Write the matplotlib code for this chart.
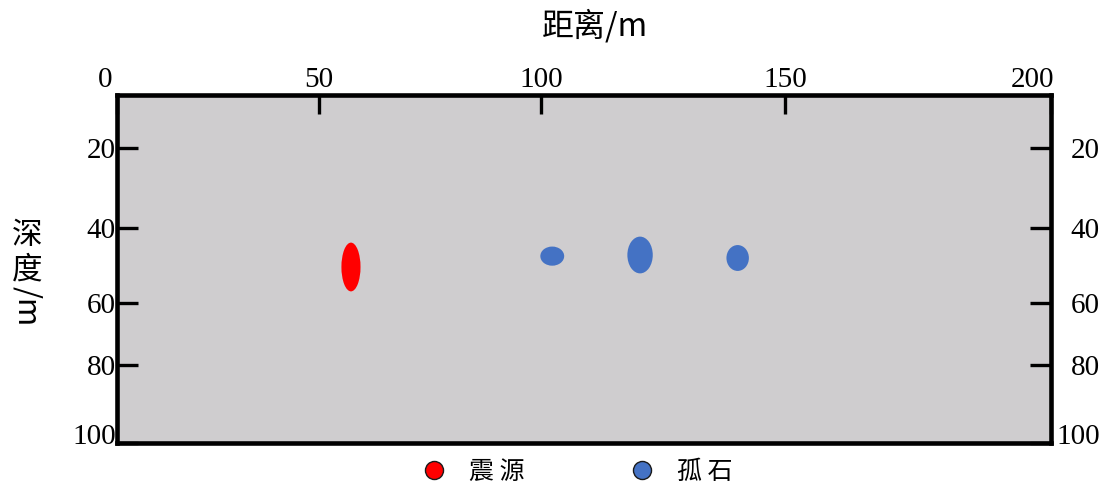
import numpy as np
import matplotlib
matplotlib.use('Agg')
import matplotlib.pyplot as plt
from matplotlib.patches import Ellipse
from matplotlib.lines import Line2D
from matplotlib.transforms import ScaledTranslation
from matplotlib.font_manager import FontProperties

# ---------------- data ----------------
x_ticks = [0, 50, 100, 150, 200]
y_ticks = [20, 40, 60, 80, 100]

source_x = [57.2]
source_y = [50.4]
source_w = [4.3]
source_h = [13.0]

boulder_x = [102.3, 120.3, 140.3]
boulder_y = [47.5, 47.2, 48.0]
boulder_w = [4.9, 5.2, 4.6]
boulder_h = [5.1, 9.8, 6.9]

legend_labels = ['震源', '孤石']
x_title = '距离/m'
y_title_cjk = ['深', '度']
y_title_unit = '/m'

# ------------- layout / style -------------
W, H, DPI = 1113, 484, 100
RED = '#ff0000'
BLUE = '#4472c4'
BG = '#cfcdcf'
CJK = ['Noto Sans CJK SC', 'DejaVu Sans']

plt.rcParams['font.family'] = ['Liberation Serif', 'DejaVu Serif']

# piecewise-linear axis scales as drawn in the reference figure
X_ANCHOR = [0, 50, 100, 150, 200]
X_PIX = [117, 319, 541, 785, 1050.5]
Y_ANCHOR = [0, 20, 40, 60, 80, 100]
Y_PIX = [94.5, 148, 228, 303, 365, 442.5]


def xf(v):
    return np.interp(v, X_ANCHOR, X_PIX)


def xi(v):
    return np.interp(v, X_PIX, X_ANCHOR)


def yf(v):
    return np.interp(v, Y_ANCHOR, Y_PIX)


def yi(v):
    return np.interp(v, Y_PIX, Y_ANCHOR)


fig = plt.figure(figsize=(W / DPI, H / DPI), dpi=DPI)
left = 117 / W
right = 1050.5 / W
top = 1 - 94.5 / H
bottom = 1 - 442.5 / H
ax = fig.add_axes([left, bottom, right - left, top - bottom])
ax.set_facecolor(BG)

ax.set_xscale('function', functions=(xf, xi))
ax.set_yscale('function', functions=(yf, yi))
ax.set_xlim(0, 200)
ax.set_ylim(100, 0)

for x, y, w, h in zip(source_x, source_y, source_w, source_h):
    ax.add_patch(Ellipse((x, y), w, h, facecolor=RED, edgecolor='none', zorder=3))
for x, y, w, h in zip(boulder_x, boulder_y, boulder_w, boulder_h):
    ax.add_patch(Ellipse((x, y), w, h, facecolor=BLUE, edgecolor='none', zorder=3))

for s in ax.spines.values():
    s.set_linewidth(3.3)
    s.set_color('black')

ax.set_xticks(x_ticks)
ax.set_xticklabels([str(v) for v in x_ticks])
ax.set_yticks(y_ticks)
ax.set_yticklabels([str(v) for v in y_ticks])
ax.minorticks_off()

ax.tick_params(axis='x', which='major', top=True, bottom=False, labeltop=True,
               labelbottom=False, direction='in', length=14, width=2.4,
               pad=1, labelsize=21, color='black')
ax.tick_params(axis='y', which='major', left=True, right=True, labelleft=True,
               labelright=True, direction='in', length=15, width=2.4,
               pad=1, labelsize=21, color='black')


def shift(lbl, dx, dy):
    lbl.set_transform(lbl.get_transform() +
                      ScaledTranslation(dx / DPI, dy / DPI, fig.dpi_scale_trans))


xt = ax.xaxis.get_major_ticks()
shift(xt[0].label2, -12, 0)
shift(xt[-1].label2, -18, 0)

yt = ax.yaxis.get_major_ticks()
for t in yt:
    t.label2.set_horizontalalignment('right')
    shift(t.label2, 48, 0)
shift(yt[-1].label1, 0, 8)
shift(yt[-1].label2, 0, 8)

# titles
fig.text(595 / W, 1 - 26 / H, x_title, ha='center', va='center',
         fontsize=23, family=CJK)
fig.text(27 / W, 1 - 236 / H, y_title_cjk[0], ha='center', va='center',
         fontsize=22, family=CJK)
fig.text(27 / W, 1 - 270 / H, y_title_cjk[1], ha='center', va='center',
         fontsize=22, family=CJK)
fig.text(27 / W, 1 - 306 / H, y_title_unit, ha='center', va='center',
         fontsize=22, family=CJK, rotation=-90)

# legend
handles = [
    Line2D([], [], ls='none', marker='o', ms=13, mfc=RED, mec='#1a1a1a', mew=1),
    Line2D([], [], ls='none', marker='o', ms=13, mfc=BLUE, mec='#1a1a1a', mew=1),
]
fig.legend(handles, [' '.join(l) for l in legend_labels], loc='center',
           bbox_to_anchor=(577 / W, 1 - 472 / H), ncol=2, frameon=False,
           prop=FontProperties(family=CJK, size=18), handlelength=1.0,
           handletextpad=0.9, columnspacing=4.2, borderpad=0, borderaxespad=0)

fig.savefig('out.png', dpi=DPI)
